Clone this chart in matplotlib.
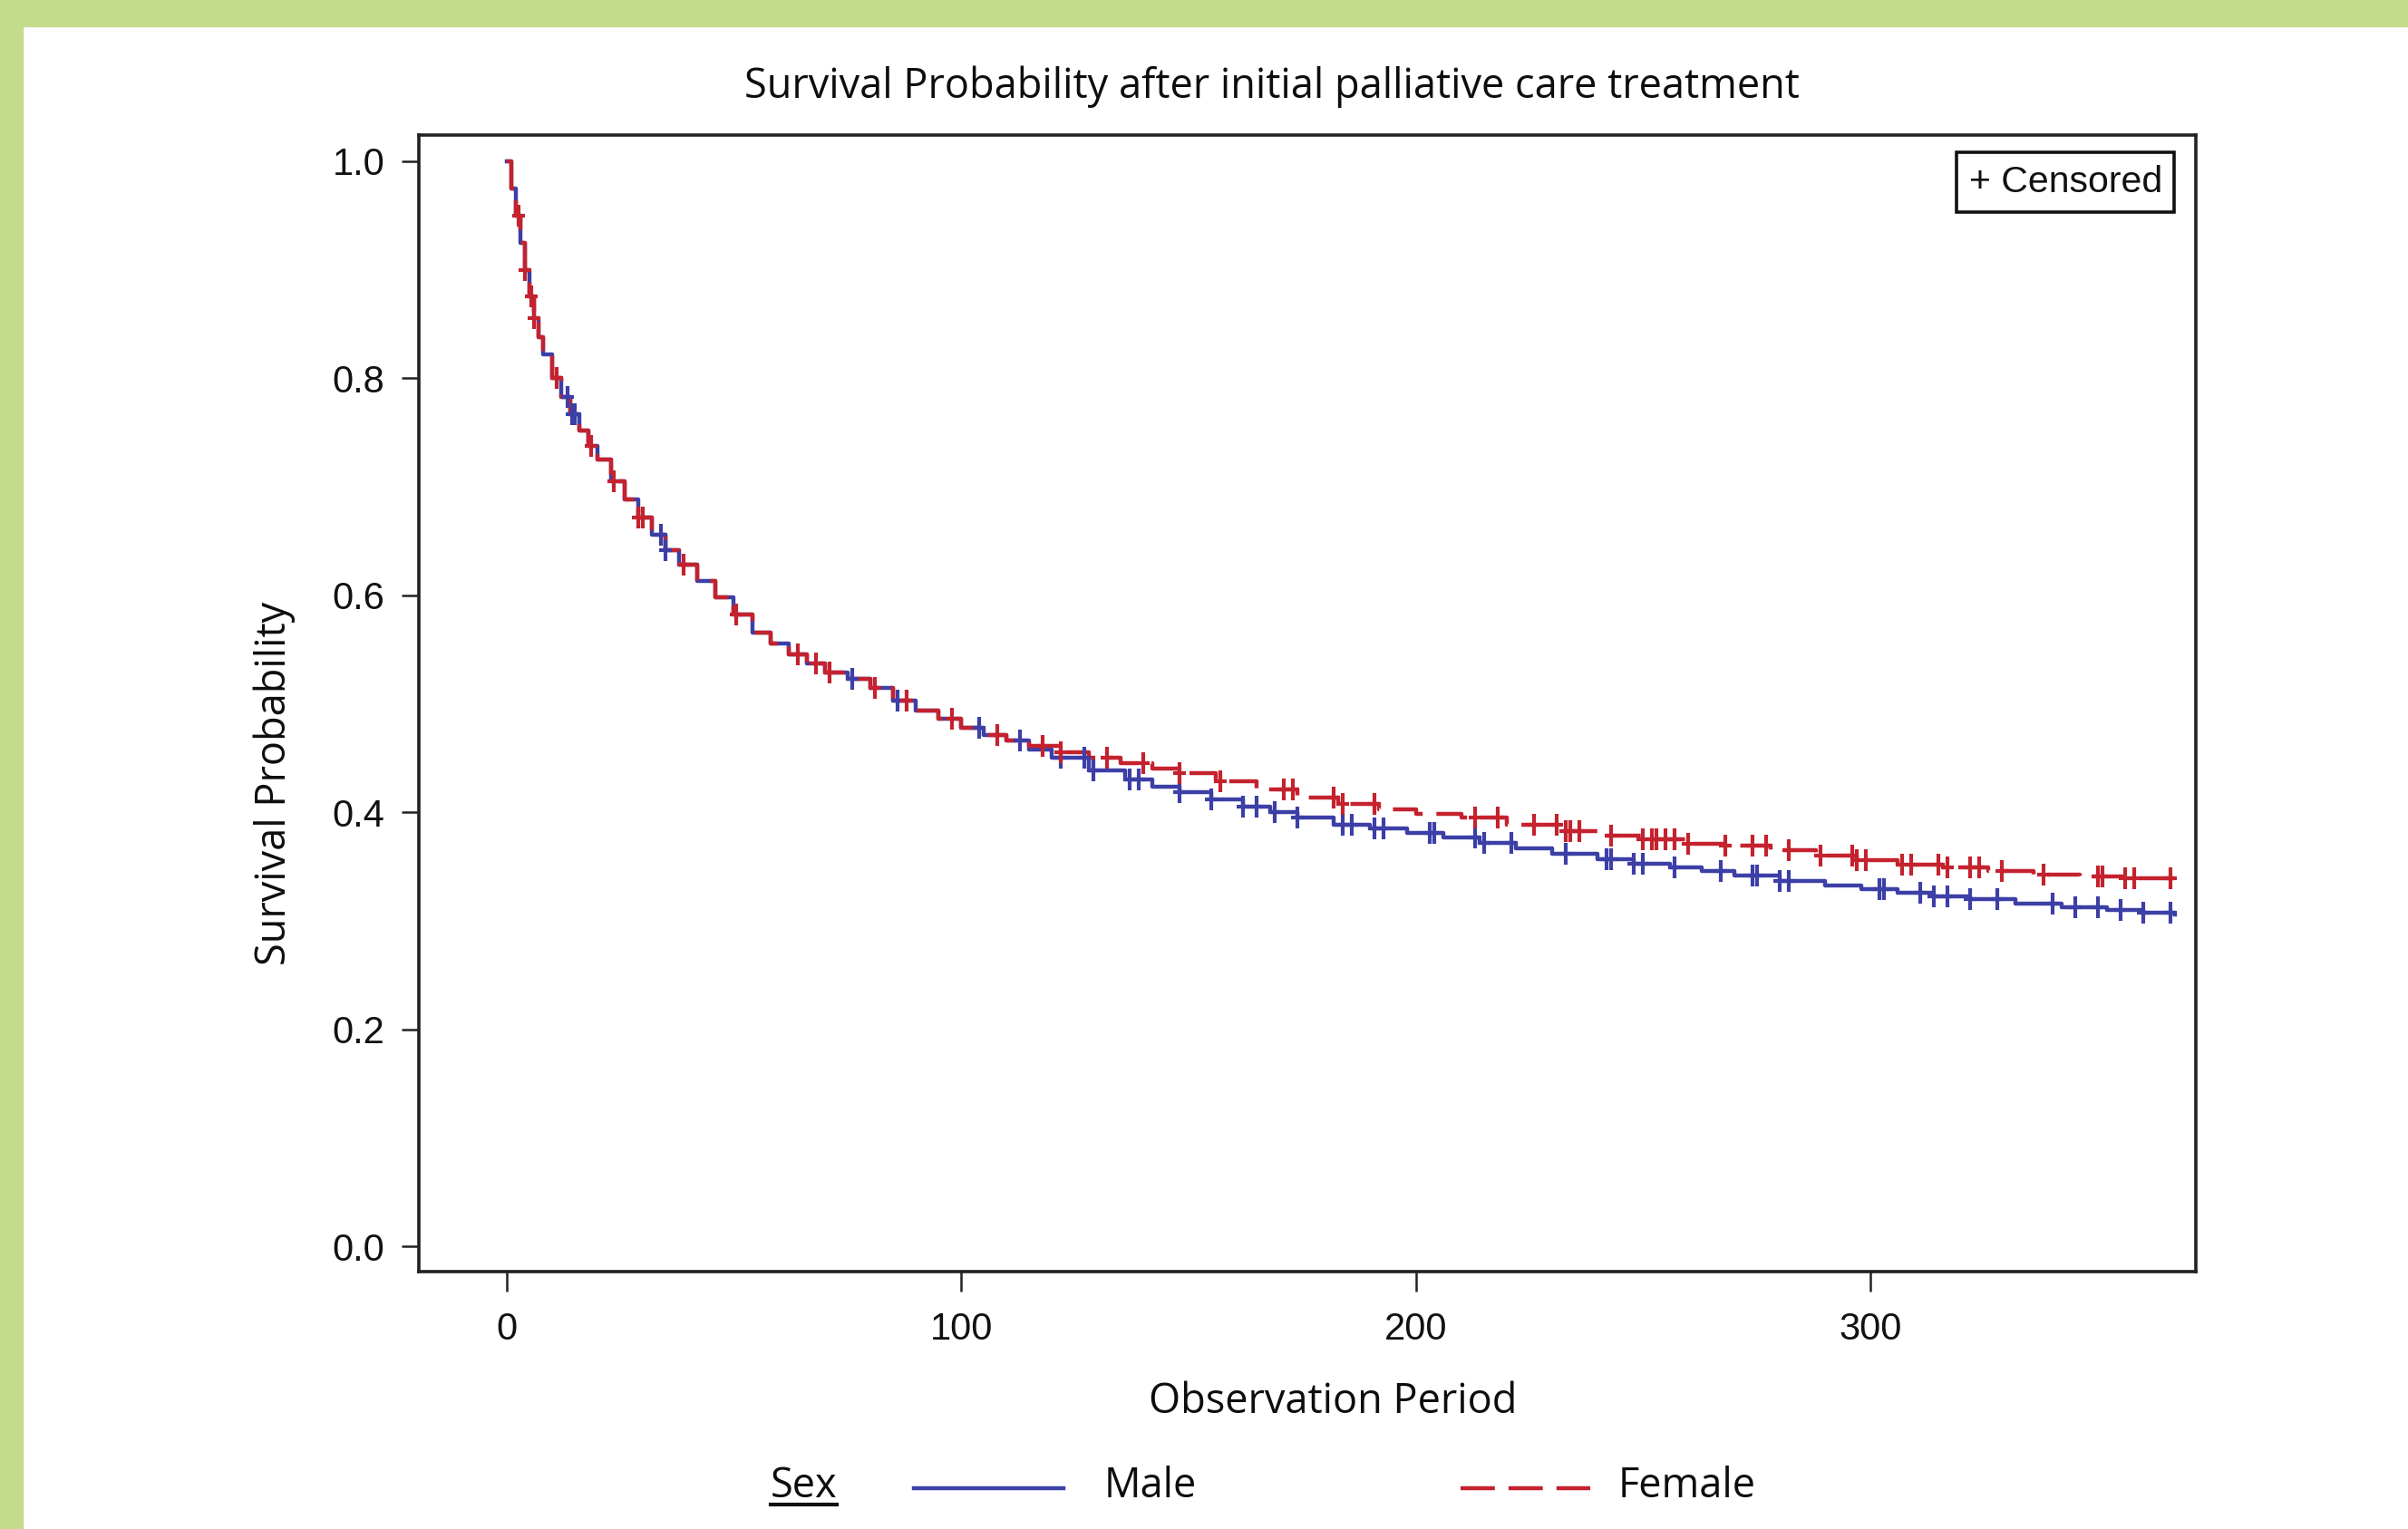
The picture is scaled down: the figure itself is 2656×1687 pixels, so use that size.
import numpy as np
import matplotlib.pyplot as plt
from matplotlib.patches import Rectangle
from matplotlib.lines import Line2D
from matplotlib.path import Path

# ---- values ----
# both groups run together until ~110 days
shared_t = [0, 1, 2, 3, 4, 5, 6, 7, 8, 10, 12, 14, 16, 18, 20, 23, 26, 29,
            32, 35, 38, 42, 46, 50, 54, 58, 62, 66, 70, 75, 80, 85, 90, 95,
            100, 105, 110]
shared_s = [1.0, 0.975, 0.95, 0.925, 0.9, 0.875, 0.855, 0.838, 0.822, 0.80,
            0.783, 0.767, 0.752, 0.738, 0.725, 0.705, 0.688, 0.672, 0.656,
            0.642, 0.628, 0.613, 0.598, 0.582, 0.566, 0.556, 0.546, 0.537,
            0.529, 0.523, 0.515, 0.503, 0.494, 0.486, 0.478, 0.471, 0.466]

male_t = shared_t + [115, 120, 128, 136, 142, 148, 155, 162, 168, 174, 182,
                     190, 198, 206, 214, 222, 230, 240, 248, 256, 263, 270,
                     280, 290, 298, 306, 314, 322, 332, 342, 352, 360, 367]
male_s = shared_s + [0.458, 0.450, 0.439, 0.430, 0.424, 0.419, 0.412, 0.405,
                     0.400, 0.395, 0.389, 0.385, 0.381, 0.377, 0.372, 0.367,
                     0.362, 0.357, 0.353, 0.349, 0.346, 0.342, 0.337, 0.333,
                     0.329, 0.326, 0.323, 0.320, 0.316, 0.313, 0.310, 0.308,
                     0.306]

female_t = shared_t + [115, 122, 128, 135, 142, 148, 156, 165, 174, 183, 192,
                       200, 210, 220, 232, 242, 250, 260, 268, 278, 288, 297,
                       306, 316, 326, 336, 346, 356, 367]
female_s = shared_s + [0.461, 0.455, 0.450, 0.445, 0.440, 0.436, 0.429, 0.421,
                       0.414, 0.408, 0.403, 0.399, 0.395, 0.389, 0.383, 0.379,
                       0.375, 0.371, 0.369, 0.365, 0.360, 0.356, 0.352, 0.349,
                       0.346, 0.343, 0.341, 0.339, 0.337]

male_censor = [13.5, 14.5, 15, 34, 35, 76, 86, 104, 113, 122, 127, 129, 137,
               139, 148, 155, 162, 165, 169, 174, 184, 186, 191, 193, 203, 204,
               213, 215, 221, 233, 242, 243, 248, 250, 257, 267, 274, 275, 280,
               282, 302, 303, 311, 314, 317, 322, 328, 340, 345, 350, 355, 360,
               366]
female_censor = [2.7, 4, 5.5, 6, 11, 18.6, 23.6, 29, 30, 39, 50.6, 64, 68, 71,
                 81, 88, 98, 108, 118, 122, 132, 140, 148, 157, 171, 173, 182,
                 184, 191, 213, 218, 226, 231, 233, 234, 236, 243, 250, 252,
                 253, 255, 257, 260, 268, 274, 277, 282, 289, 296, 297, 299,
                 307, 309, 315, 317, 322, 324, 329, 338, 350, 351, 356, 358,
                 366]

x_ticks = [0, 100, 200, 300]
y_ticks = [0.0, 0.2, 0.4, 0.6, 0.8, 1.0]

BLUE = '#3c3fa6'
RED = '#c4222e'
GREEN = '#c4db8c'
LW = 3.2
DASH = (8.5, 3.4)


def step_value(times, surv, at):
    idx = np.searchsorted(np.asarray(times), np.asarray(at), side='right') - 1
    return np.asarray(surv)[idx]


# tall thin "+" used by SAS for censored obs
plus_path = Path([(-0.3, 0), (0.3, 0), (0, -0.5), (0, 0.5)],
                 [Path.MOVETO, Path.LINETO, Path.MOVETO, Path.LINETO])

fig = plt.figure(figsize=(26.56, 16.87), dpi=100)
fig.patch.set_facecolor('white')

# green frame of the source page
fig.patches.append(Rectangle((0, 1 - 29 / 1687), 1, 29 / 1687,
                             transform=fig.transFigure, color=GREEN, zorder=0))
fig.patches.append(Rectangle((0, 0), 25 / 2656, 1,
                             transform=fig.transFigure, color=GREEN, zorder=0))

ax = fig.add_axes([462 / 2656, 1 - 1403 / 1687, 1960 / 2656, 1254 / 1687])

ax.plot(male_t, male_s, drawstyle='steps-post', color=BLUE, lw=LW)
ax.plot(female_t, female_s, drawstyle='steps-post', color=RED, lw=LW,
        dashes=DASH)

ax.plot(male_censor, step_value(male_t, male_s, male_censor), ls='none',
        marker=plus_path, ms=17, mew=3.0, color=BLUE)
ax.plot(female_censor, step_value(female_t, female_s, female_censor), ls='none',
        marker=plus_path, ms=17, mew=3.0, color=RED)

ax.set_xlim(-19.3, 371.6)
ax.set_ylim(-0.023, 1.024)
ax.set_xticks(x_ticks)
ax.set_yticks(y_ticks)
ax.set_yticklabels([f'{v:.1f}' for v in y_ticks])

for sp in ax.spines.values():
    sp.set_linewidth(2.6)
    sp.set_color('#222222')
ax.tick_params(axis='x', length=16, width=1.8, pad=16, labelsize=30,
               color='#222222')
ax.tick_params(axis='y', length=14, width=1.8, pad=13, labelsize=30,
               color='#222222')
for lab in ax.get_xticklabels() + ax.get_yticklabels():
    lab.set_family('Liberation Sans')
    lab.set_color('#111111')

ax.text(0.981, 0.9737, '+ Censored', transform=ax.transAxes, ha='right',
        va='top', fontsize=29.5, family='Liberation Sans', color='#111111',
        bbox=dict(boxstyle='square,pad=0.33', fc='white', ec='#111111', lw=2.6))

lab_font = dict(family='Open Sans', color='#0d0d0d')
FS = 32.5
fig.text(1403 / 2656, 1 - 96 / 1687, 'Survival Probability after initial palliative care treatment',
         ha='center', va='center', fontsize=FS, **lab_font)
fig.text(303 / 2656, 1 - 864 / 1687, 'Survival Probability', rotation=90,
         ha='center', va='center', fontsize=FS, **lab_font)
fig.text(1470 / 2656, 1 - 1547 / 1687, 'Observation Period',
         ha='center', va='center', fontsize=FS, **lab_font)

# legend row at the bottom
ly = 1 - 1640 / 1687
fig.text(850 / 2656, ly, 'Sex', ha='left', va='center', fontsize=FS, **lab_font)
fig.lines.append(Line2D([850 / 2656, 923 / 2656], [1 - 1660 / 1687] * 2,
                        transform=fig.transFigure, color='#111111', lw=3.0))
fig.lines.append(Line2D([1008 / 2656, 1173 / 2656], [1 - 1642 / 1687] * 2,
                        transform=fig.transFigure, color=BLUE, lw=LW))
fig.text(1218 / 2656, ly, 'Male', ha='left', va='center', fontsize=FS, **lab_font)
fig.lines.append(Line2D([1611 / 2656, 1754 / 2656], [1 - 1642 / 1687] * 2,
                        transform=fig.transFigure, color=RED, lw=LW,
                        dashes=DASH))
fig.text(1785 / 2656, ly, 'Female', ha='left', va='center', fontsize=FS, **lab_font)

fig.savefig('out.png', dpi=100)
